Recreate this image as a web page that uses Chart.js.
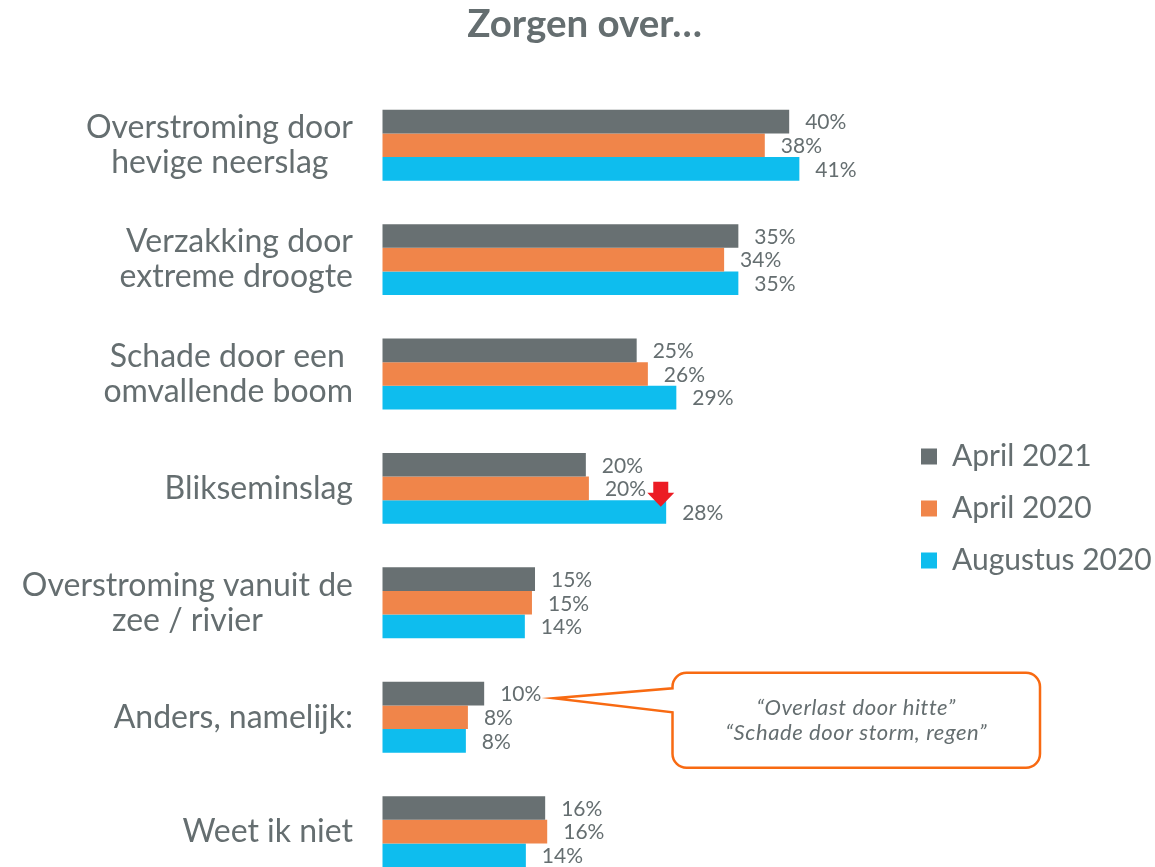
<!DOCTYPE html>
<html>
<head>
<meta charset="utf-8">
<script src="https://cdn.jsdelivr.net/npm/chart.js@4/dist/chart.umd.min.js"></script>
<style>
html,body{margin:0;padding:0;background:#ffffff;overflow:hidden}
canvas{display:block}
</style>
</head>
<body>
<canvas id="c" width="1155" height="867"></canvas>
<script>
// ---------- data ----------
const categories = [
  ['Overstroming door', 'hevige neerslag'],
  ['Verzakking door', 'extreme droogte'],
  ['Schade door een', 'omvallende boom'],
  ['Blikseminslag'],
  ['Overstroming vanuit de', 'zee / rivier'],
  ['Anders, namelijk:'],
  ['Weet ik niet']
];
const seriesNames = ['April 2021', 'April 2020', 'Augustus 2020'];
const april2021 = [40, 35, 25, 20, 15, 10, 16];
const april2020 = [37.6, 33.6, 26.1, 20.3, 14.7, 8.4, 16.2];
const augustus2020 = [41, 35, 28.9, 27.9, 14, 8.2, 14.1];
const titleText = 'Zorgen over…';
const calloutLines = ['“Overlast door hitte”', '“Schade door storm, regen”'];
const arrowCategory = 3;    // Blikseminslag, Augustus 2020 bar
const calloutCategory = 5;  // Anders, namelijk:

// ---------- styling ----------
const FONT = 'Lato';
const TEXT = '#656e70';
const COLORS = ['#687072', '#f0854a', '#0ebdee'];
const RED = '#ec1c24';
const CALLOUT = '#f86a12';

const mctx = document.createElement('canvas').getContext('2d');
function textW(t, font) { mctx.font = font; return mctx.measureText(t).width; }

const LABEL_SIZE = 32;
function padLines(lines) {
  const f = LABEL_SIZE + 'px ' + FONT;
  const w = lines.map(l => textW(l, f));
  const maxW = Math.max(...w);
  const sp = textW(' ', f);
  return lines.map((l, i) => l + ' '.repeat(Math.round((maxW - w[i]) / 2 / sp)));
}

const LEG_FONT = 30, LEG_BOX = 16, LEG_PAD = 22;
const legendTextW = Math.max(...seriesNames.map(s => textW(s, LEG_FONT + 'px ' + FONT)));
const legendWidth = LEG_PAD + LEG_BOX + LEG_FONT / 2 + legendTextW + 10;
const plotLeft = 382.5, plotRight = 899;
const padRight = 1155 - plotRight - legendWidth;
const padLeft = 14 + padRight;

const valueLabels = {
  id: 'valueLabels',
  afterDatasetsDraw(chart) {
    const ctx = chart.ctx;
    ctx.save();
    ctx.font = '21px ' + FONT;
    ctx.fillStyle = TEXT;
    ctx.textAlign = 'left';
    ctx.textBaseline = 'middle';
    chart.data.datasets.forEach((ds, di) => {
      chart.getDatasetMeta(di).data.forEach((bar, i) => {
        ctx.fillText(Math.round(ds.data[i]) + '%', bar.x + 16, bar.y + 1);
      });
    });
    ctx.restore();
  }
};

const annotations = {
  id: 'annotations',
  afterDraw(chart) {
    const ctx = chart.ctx;
    ctx.save();
    // red down arrow on the Augustus 2020 bar of Blikseminslag
    const bar = chart.getDatasetMeta(2).data[arrowCategory];
    const tx = bar.x - 5.4, ty = bar.y - 5.2;
    ctx.fillStyle = RED;
    ctx.beginPath();
    ctx.moveTo(tx - 7.5, ty - 25);
    ctx.lineTo(tx + 7.5, ty - 25);
    ctx.lineTo(tx + 7.5, ty - 14);
    ctx.lineTo(tx + 13.5, ty - 14);
    ctx.lineTo(tx, ty);
    ctx.lineTo(tx - 13.5, ty - 14);
    ctx.lineTo(tx - 7.5, ty - 14);
    ctx.closePath();
    ctx.fill();

    // callout for "Anders, namelijk:"
    const yc = chart.scales.y.getPixelForValue(calloutCategory);
    const L = chart.chartArea.left + 290, R = chart.chartArea.left + 657.5;
    const T = yc - 44.5, B = yc + 50.5, r = 14;
    const tipX = chart.chartArea.left + 171.3, tipY = yc - 18.9;
    ctx.beginPath();
    ctx.moveTo(L + r, T);
    ctx.lineTo(R - r, T);
    ctx.arcTo(R, T, R, T + r, r);
    ctx.lineTo(R, B - r);
    ctx.arcTo(R, B, R - r, B, r);
    ctx.lineTo(L + r, B);
    ctx.arcTo(L, B, L, B - r, r);
    ctx.lineTo(L, yc - 4.9);
    ctx.lineTo(tipX, tipY);
    ctx.lineTo(L, yc - 28.9);
    ctx.lineTo(L, T + r);
    ctx.arcTo(L, T, L + r, T, r);
    ctx.closePath();
    ctx.fillStyle = '#ffffff';
    ctx.fill();
    ctx.lineWidth = 2.5;
    ctx.strokeStyle = CALLOUT;
    ctx.lineJoin = 'miter';
    ctx.stroke();
    ctx.fillStyle = TEXT;
    ctx.font = 'italic 22px ' + FONT;
    if ('letterSpacing' in ctx) ctx.letterSpacing = '0.6px';
    ctx.textAlign = 'center';
    ctx.textBaseline = 'middle';
    const cx = (L + R) / 2, cy = (T + B) / 2;
    calloutLines.forEach((t, i) => {
      ctx.fillText(t, cx, cy + (i - (calloutLines.length - 1) / 2) * 25);
    });
    ctx.restore();
  }
};

new Chart(document.getElementById('c'), {
  type: 'bar',
  data: {
    labels: categories,
    datasets: [
      { label: seriesNames[0], data: april2021, backgroundColor: COLORS[0] },
      { label: seriesNames[1], data: april2020, backgroundColor: COLORS[1] },
      { label: seriesNames[2], data: augustus2020, backgroundColor: COLORS[2] }
    ]
  },
  options: {
    indexAxis: 'y',
    responsive: false,
    animation: false,
    devicePixelRatio: 1,
    datasets: { bar: { categoryPercentage: 0.62, barPercentage: 1, borderWidth: 0, clip: false } },
    layout: { autoPadding: false, padding: { left: padLeft, right: padRight, top: 0, bottom: 35.4 } },
    scales: {
      x: { display: false, min: 0, max: 50.8 },
      y: {
        offset: false,
        grid: { display: false, drawTicks: false },
        border: { display: false },
        ticks: {
          autoSkip: false,
          padding: 29.5,
          color: TEXT,
          font: { family: FONT, size: LABEL_SIZE, lineHeight: 35 / LABEL_SIZE },
          callback: (v, i) => padLines(categories[i])
        },
        afterFit(scale) {
          scale.width = plotLeft - padLeft;
          scale.paddingTop = 0;
          scale.paddingBottom = 0;
        }
      }
    },
    plugins: {
      title: {
        display: true,
        text: titleText,
        color: TEXT,
        font: { family: FONT, size: 38.5, weight: 'bold', lineHeight: 1.2 },
        padding: { top: 1.2, bottom: 97.8 }
      },
      legend: {
        display: true,
        position: 'right',
        align: 'center',
        fullSize: false,
        title: { display: true, text: '', font: { size: 40, lineHeight: 1 }, padding: 0 },
        labels: {
          boxWidth: LEG_BOX,
          boxHeight: LEG_BOX,
          padding: LEG_PAD,
          color: TEXT,
          font: { family: FONT, size: LEG_FONT }
        }
      },
      tooltip: { enabled: false }
    }
  },
  plugins: [valueLabels, annotations]
});
</script>
</body>
</html>
